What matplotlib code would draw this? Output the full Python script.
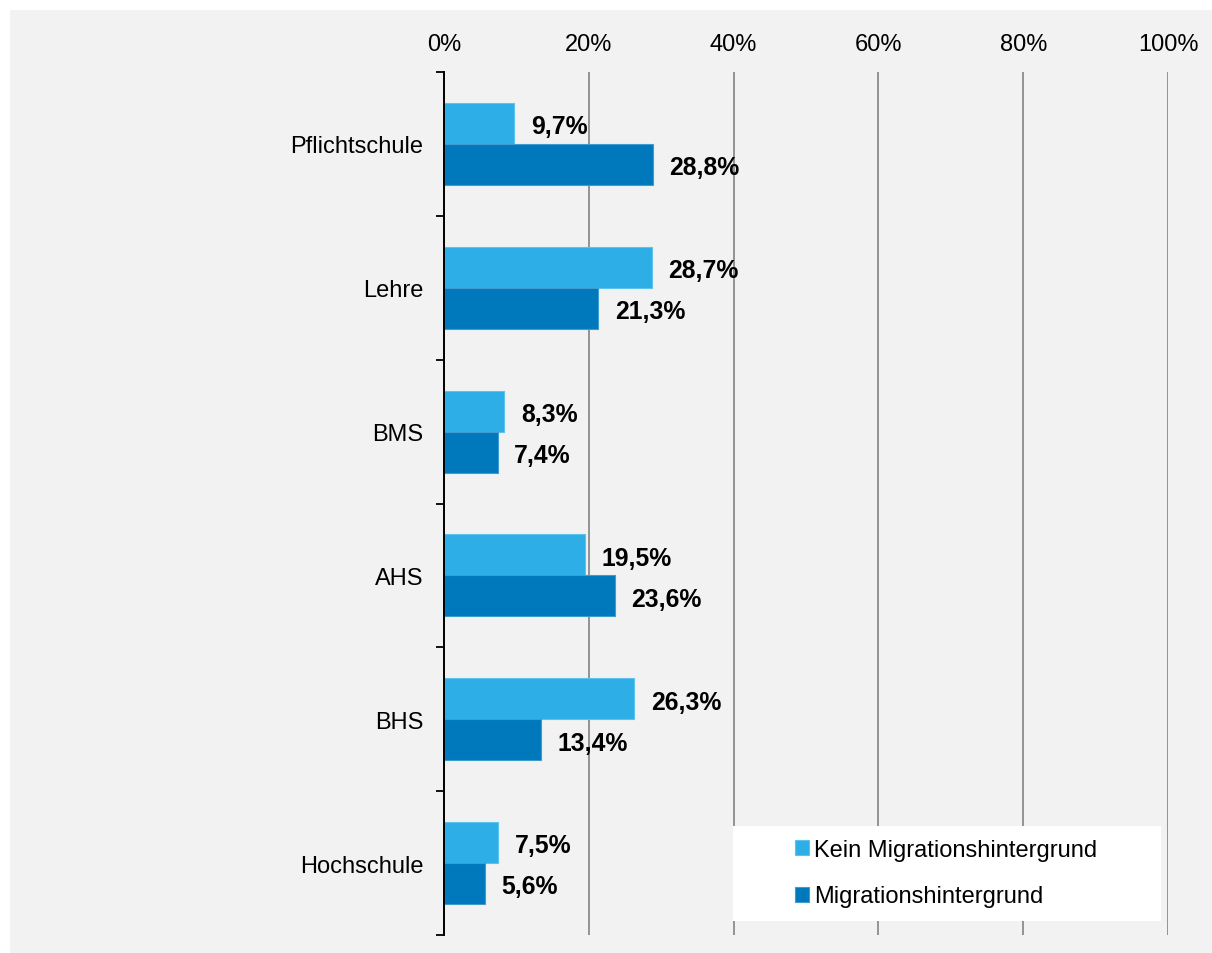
import matplotlib
matplotlib.use("Agg")
import matplotlib.pyplot as plt
from matplotlib.patches import Rectangle
from matplotlib.ticker import FixedLocator
import numpy as np

plt.rcParams['font.family'] = ['Liberation Sans', 'DejaVu Sans']

categories = ["Pflichtschule", "Lehre", "BMS", "AHS", "BHS", "Hochschule"]
kein_migration = [9.7, 28.7, 8.3, 19.5, 26.3, 7.5]
migration = [28.8, 21.3, 7.4, 23.6, 13.4, 5.6]
series_names = ["Kein Migrationshintergrund", "Migrationshintergrund"]
x_ticks = [0, 20, 40, 60, 80, 100]
x_ticklabels = ["0%", "20%", "40%", "60%", "80%", "100%"]

c_light = "#2eaee6"
c_dark = "#0079bc"
bg = "#f2f2f2"

W, H = 1212, 954
fig = plt.figure(figsize=(W / 100, H / 100), dpi=100, facecolor="white")
fig.patches.append(Rectangle((10 / W, -0.01), 1.01 - 10 / W, 1.01 - 11 / H,
                             transform=fig.transFigure, facecolor=bg,
                             edgecolor="none", zorder=-10))

ax = fig.add_axes([444 / W, 1 - 936 / H, 724 / W, 863 / H])
ax.set_facecolor(bg)

n = len(categories)
pos = np.arange(n)
bh = 0.285

b1 = ax.barh(pos - bh / 2, kein_migration, height=bh, color=c_light,
             edgecolor="#5cc2ee", linewidth=0.8, label=series_names[0], zorder=3)
b2 = ax.barh(pos + bh / 2, migration, height=bh, color=c_dark,
             edgecolor="#3f9bd0", linewidth=0.8, label=series_names[1], zorder=3)

def fmt(v):
    return f"{v:.1f}".replace(".", ",") + "%"

for bars, vals in ((b1, kein_migration), (b2, migration)):
    for rect, v in zip(bars, vals):
        y = rect.get_y() + rect.get_height() / 2
        ax.annotate(fmt(v), (v, y), xytext=(12, -2), textcoords="offset points",
                    ha="left", va="center", fontsize=17.8, fontweight="bold",
                    color="black", zorder=6)

ax.set_xlim(0, 100)
ax.set_ylim(n - 0.5, -0.5)

ax.xaxis.tick_top()
ax.set_xticks(x_ticks)
ax.set_xticklabels(x_ticklabels, fontsize=17)
ax.tick_params(axis="x", length=0, pad=12)
ax.grid(axis="x", color="#8c8c8c", linewidth=1.3, zorder=1)
ax.set_axisbelow(True)

ax.set_yticks(pos)
ax.set_yticklabels(categories, fontsize=17)
ax.tick_params(axis="y", which="major", length=0, pad=15)
ax.yaxis.set_minor_locator(FixedLocator(np.arange(-0.5, n, 1.0)))
ax.tick_params(axis="y", which="minor", length=6, width=1.3, color="black",
               direction="out")

for s in ("top", "right", "bottom"):
    ax.spines[s].set_visible(False)
ax.spines["left"].set_color("black")
ax.spines["left"].set_linewidth(1.4)
ax.spines["left"].set_zorder(4)

# white box behind the legend
ax.add_patch(Rectangle(((733 - 444) / 724, (936 - 922) / 863),
                       (1161 - 733) / 724, (922 - 827) / 863,
                       transform=ax.transAxes, facecolor="white",
                       edgecolor="none", zorder=4))
ax.legend(loc="center left", bbox_to_anchor=((795 - 444) / 724, (936 - 874) / 863),
          frameon=False, fontsize=17, handlelength=0.6, handleheight=0.6,
          handletextpad=0.2, labelspacing=1.05, borderpad=0, borderaxespad=0)

fig.savefig("out.png", dpi=100, facecolor="white")
